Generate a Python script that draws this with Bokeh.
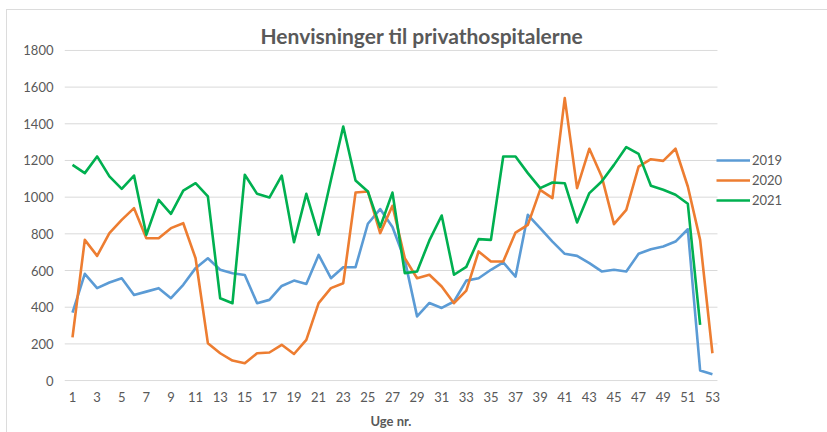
from bokeh.plotting import figure
from bokeh.models import Legend, LegendItem, FixedTicker, Range1d, LinearAxis
from bokeh.embed import file_html
from bokeh.resources import INLINE

title_text = "Henvisninger til privathospitalerne"
x_title = "Uge nr."
series_names = ["2019", "2020", "2021"]

weeks = list(range(1, 54))
v2019 = [371, 582, 504, 535, 558, 467, 485, 504, 449, 522,
         613, 667, 604, 585, 576, 422, 440, 516, 545, 527,
         685, 558, 618, 618, 855, 935, 837, 658, 350, 423,
         396, 431, 545, 558, 604, 644, 567, 904, 831, 758,
         691, 680, 640, 595, 604, 595, 691, 716, 731, 758,
         825, 55, 35]
v2020 = [236, 767, 680, 804, 876, 940, 776, 776, 831, 858,
         667, 204, 149, 109, 95, 149, 153, 195, 145, 222,
         422, 504, 531, 1025, 1031, 804, 953, 668, 558, 577,
         513, 422, 490, 704, 649, 649, 807, 849, 1040, 995,
         1540, 1049, 1264, 1113, 853, 931, 1167, 1207, 1198, 1264,
         1058, 767, 149]
v2021 = [1176, 1131, 1222, 1113, 1045, 1118, 795, 985, 909, 1036,
         1076, 1004, 449, 422, 1122, 1018, 998, 1118, 754, 1018,
         795, 1094, 1385, 1091, 1031, 837, 1025, 586, 595, 764,
         900, 577, 620, 771, 767, 1222, 1222, 1131, 1049, 1080,
         1076, 862, 1022, 1085, 1176, 1273, 1236, 1062, 1040, 1013,
         964, 304]
x_ticks = list(range(1, 54, 2))
y_ticks = list(range(0, 1801, 200))

colors = ["#5B9BD5", "#ED7D31", "#00B050"]
FONT = "Lato"
TXT = "#595959"

# plot area spans weeks 0.35 .. 53.41; frame extends further right to host the legend
X_LO, X_GRID_HI, X_HI = 0.35, 53.41, 62.35

p = figure(width=827, height=432, output_backend="svg", toolbar_location=None,
           title=title_text,
           x_range=Range1d(X_LO, X_HI), y_range=Range1d(-5, 1805),
           min_border_left=64, min_border_right=0, min_border_top=49, min_border_bottom=51)
# faint outer chart border (top and left edges) drawn behind a transparent canvas border
p.border_fill_alpha = 0
p.background_fill_color = "white"
p.styles = {"background": "linear-gradient(#dcdcdc, #dcdcdc) 6px 9px / 1px 100% no-repeat, "
                          "linear-gradient(#dcdcdc, #dcdcdc) 6px 9px / 100% 1px no-repeat, white"}

p.title.text_font = FONT
p.title.text_font_style = "bold"
p.title.text_font_size = "21px"
p.title.text_color = TXT
p.title.align = "left"
p.title.offset = 196
p.title.standoff = 3

p.outline_line_color = None
p.xgrid.grid_line_color = None
p.ygrid.grid_line_color = None

# horizontal gridlines only across the plot area
p.segment(x0=[X_LO] * len(y_ticks), y0=y_ticks, x1=[X_GRID_HI] * len(y_ticks), y1=y_ticks,
          line_color="#d9d9d9", line_width=1)

p.xaxis.ticker = FixedTicker(ticks=x_ticks)
p.yaxis.ticker = FixedTicker(ticks=y_ticks)
for ax in (p.xaxis[0], p.yaxis[0]):
    ax.major_tick_line_color = None
    ax.minor_tick_line_color = None
    ax.major_tick_out = 0
    ax.major_tick_in = 0
    ax.minor_tick_out = 0
    ax.minor_tick_in = 0
    ax.major_label_text_font = FONT
    ax.major_label_text_font_size = "13px"
    ax.major_label_text_color = TXT
    ax.axis_line_color = None
p.xaxis.major_label_standoff = 10
p.yaxis.major_label_standoff = 11

# axis title placed under the middle of the plot area
mid = (X_LO + X_GRID_HI) / 2
title_axis = LinearAxis(ticker=FixedTicker(ticks=[mid]), major_label_overrides={mid: x_title})
title_axis.axis_line_color = None
title_axis.major_tick_line_color = None
title_axis.minor_tick_line_color = None
title_axis.major_tick_out = 0
title_axis.major_tick_in = 0
title_axis.minor_tick_out = 0
title_axis.minor_tick_in = 0
title_axis.major_label_text_font = FONT
title_axis.major_label_text_font_style = "bold"
title_axis.major_label_text_font_size = "13px"
title_axis.major_label_text_color = TXT
title_axis.major_label_standoff = 8
p.add_layout(title_axis, "below")

renderers = []
data = [(weeks, v2019), (weeks, v2020), (weeks[:len(v2021)], v2021)]
for (xs, ys), c in zip(data, colors):
    r = p.line(xs, ys, line_color=c, line_width=2.6, line_join="round")
    renderers.append(r)

legend = Legend(items=[LegendItem(label=n, renderers=[r]) for n, r in zip(series_names, renderers)],
                location=(652, 171), orientation="vertical")
legend.label_text_font = FONT
legend.label_text_font_size = "13px"
legend.label_text_color = TXT
legend.glyph_width = 34
legend.glyph_height = 20
legend.label_standoff = 2
legend.spacing = 0
legend.padding = 0
legend.margin = 0
legend.border_line_color = None
legend.background_fill_alpha = 0
p.add_layout(legend, "center")

open("out.html", "w").write(file_html(p, INLINE))
